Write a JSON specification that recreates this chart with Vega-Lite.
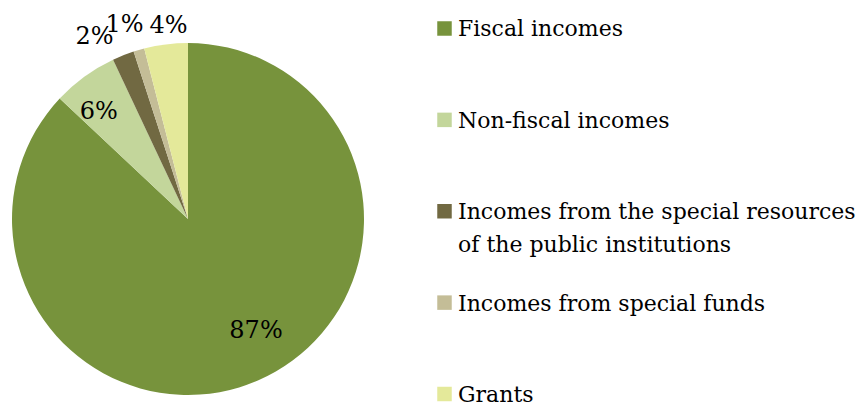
{
  "$schema": "https://vega.github.io/schema/vega-lite/v6.json",
  "background": "white",
  "padding": {"left": 12, "top": 6, "right": 0, "bottom": 0},
  "config": {"view": {"stroke": null}},
  "datasets": {
    "income": [
      {"rank": 1, "category": "Fiscal incomes", "value": 87, "label": "87%"},
      {"rank": 2, "category": "Non-fiscal incomes", "value": 6, "label": "6%"},
      {"rank": 3, "category": "Incomes from the special resources\nof the public institutions", "value": 2, "label": "2%"},
      {"rank": 4, "category": "Incomes from special funds", "value": 1, "label": "1%"},
      {"rank": 5, "category": "Grants", "value": 4, "label": "4%"}
    ]
  },
  "data": {"name": "income"},
  "spacing": 70.5,
  "hconcat": [
    {
      "width": 352,
      "height": 366,
      "encoding": {
        "theta": {"field": "value", "type": "quantitative", "stack": true},
        "order": {"field": "rank", "type": "quantitative", "sort": "ascending"},
        "detail": {"field": "category", "type": "nominal"}
      },
      "layer": [
        {
          "mark": {"type": "arc", "stroke": null},
          "encoding": {
            "color": {
              "field": "category",
              "type": "nominal",
              "scale": {
                "domain": ["Fiscal incomes", "Non-fiscal incomes", "Incomes from the special resources\nof the public institutions", "Incomes from special funds", "Grants"],
                "range": ["#77933C", "#C3D69B", "#716942", "#C4BD97", "#E4E99A"]
              },
              "legend": null
            }
          }
        },
        {
          "mark": {"type": "text", "radius": 131, "dx": 16, "dy": -8, "fontSize": 24, "font": "DejaVu Serif", "fill": "black"},
          "encoding": {"text": {"condition": {"test": "datum.rank == 1", "field": "label"}, "value": ""}}
        },
        {
          "mark": {"type": "text", "radius": 140, "dx": -7, "dy": 6, "fontSize": 24, "font": "DejaVu Serif", "fill": "black"},
          "encoding": {"text": {"condition": {"test": "datum.rank == 2", "field": "label"}, "value": ""}}
        },
        {
          "mark": {"type": "text", "radius": 205, "dx": -18, "dy": 9, "fontSize": 24, "font": "DejaVu Serif", "fill": "black"},
          "encoding": {"text": {"condition": {"test": "datum.rank == 3", "field": "label"}, "value": ""}}
        },
        {
          "mark": {"type": "text", "radius": 206, "dx": -6, "dy": 4, "fontSize": 24, "font": "DejaVu Serif", "fill": "black"},
          "encoding": {"text": {"condition": {"test": "datum.rank == 4", "field": "label"}, "value": ""}}
        },
        {
          "mark": {"type": "text", "radius": 196, "dx": 5, "dy": 1, "fontSize": 24, "font": "DejaVu Serif", "fill": "black"},
          "encoding": {"text": {"condition": {"test": "datum.rank == 5", "field": "label"}, "value": ""}}
        }
      ]
    },
    {
      "width": 20,
      "height": 366,
      "encoding": {
        "y": {
          "field": "rank",
          "type": "quantitative",
          "scale": {"domain": [1.0821, 5.0876], "reverse": true, "zero": false, "nice": false},
          "axis": null
        }
      },
      "layer": [
        {
          "mark": {"type": "point", "shape": "square", "filled": true, "size": 210, "opacity": 1, "strokeWidth": 0},
          "encoding": {
            "color": {
              "field": "category",
              "type": "nominal",
              "scale": {
                "domain": ["Fiscal incomes", "Non-fiscal incomes", "Incomes from the special resources\nof the public institutions", "Incomes from special funds", "Grants"],
                "range": ["#77933C", "#C3D69B", "#716942", "#C4BD97", "#E4E99A"]
              },
              "legend": null
            }
          }
        },
        {
          "mark": {"type": "text", "align": "left", "baseline": "alphabetic", "dx": 13.5, "dy": 8, "fontSize": 22, "font": "DejaVu Serif", "lineBreak": "\n", "lineHeight": 33, "fill": "black"},
          "encoding": {"text": {"field": "category"}}
        }
      ]
    }
  ]
}
